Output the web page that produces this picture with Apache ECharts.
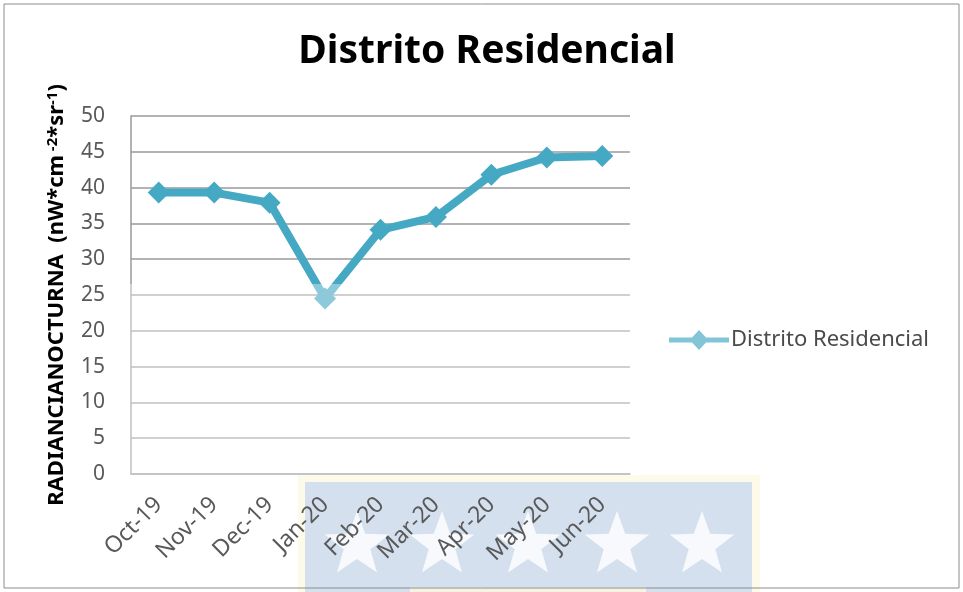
<!DOCTYPE html>
<html>
<head>
<meta charset="utf-8">
<script src="https://cdn.jsdelivr.net/npm/echarts@6/dist/echarts.min.js"></script>
<style>
  html, body { margin: 0; padding: 0; background: #fff; }
  #chart { width: 963px; height: 592px; }
</style>
</head>
<body>
<div id="chart"></div>
<script>
const months = ["Oct-19", "Nov-19", "Dec-19", "Jan-20", "Feb-20", "Mar-20", "Apr-20", "May-20", "Jun-20"];
const radiancia = [39.3, 39.3, 37.9, 24.5, 34.1, 35.9, 41.8, 44.2, 44.4];
const seriesName = "Distrito Residencial";

const chart = echarts.init(document.getElementById("chart"));
const font = "'Noto Sans', sans-serif";
const lineColor = "#46A9C4";

// faint stamp in the background of the scanned page
function starPoints(cx, cy, r, r0) {
  const pts = [];
  for (let i = 0; i < 10; i++) {
    const a = -Math.PI / 2 + (i * Math.PI) / 5;
    const rr = i % 2 === 0 ? r : r0;
    pts.push([cx + rr * Math.cos(a), cy + rr * Math.sin(a)]);
  }
  return pts;
}
const stamp = [
  {
    type: "rect",
    z: -10,
    shape: { x: 298, y: 475, width: 462, height: 120 },
    style: { fill: "#FDFAEA" },
    silent: true,
  },
  {
    type: "rect",
    z: -9,
    shape: { x: 305, y: 482, width: 447, height: 110 },
    style: { fill: "#D5E0EE" },
    silent: true,
  },
  {
    type: "rect",
    z: -8,
    shape: { x: 410, y: 587, width: 236, height: 5 },
    style: { fill: "#F6F3E2" },
    silent: true,
  },
];
[357, 442, 528, 617, 702].forEach((cx) => {
  stamp.push({
    type: "polygon",
    z: -8,
    shape: { points: starPoints(cx, 545, 34, 14) },
    style: { fill: "#F7F9FC" },
    silent: true,
  });
});
// the lower part of the scan is washed out
stamp.push({
  type: "rect",
  z: 100,
  shape: { x: 127, y: 284, width: 510, height: 192 },
  style: { fill: "rgba(255,255,255,0.38)" },
  silent: true,
});

chart.setOption({
  backgroundColor: "#fff",
  animation: false,
  title: {
    text: "Distrito Residencial",
    left: 482,
    top: 27,
    textAlign: "center",
    textStyle: { fontFamily: font, fontSize: 39, fontWeight: "bold", color: "#000" },
  },
  legend: {
    left: 669,
    top: 329,
    padding: 0,
    itemWidth: 60,
    itemHeight: 20,
    itemGap: 4,
    icon: "path://M0,7.5 L23,7.5 L30,0 L37,7.5 L60,7.5 L60,12.5 L37,12.5 L30,20 L23,12.5 L0,12.5 Z",
    data: [seriesName],
    textStyle: { fontFamily: font, fontSize: 22, color: "#4a4a4a", padding: [0, 0, 0, -3] },
    itemStyle: { color: "#82C5D7" },
  },
  grid: { left: 131, right: 333, top: 116, bottom: 118 },
  xAxis: {
    type: "category",
    data: months,
    boundaryGap: true,
    axisLine: { lineStyle: { color: "#9a9a9a", width: 1.5 } },
    axisTick: { show: false },
    axisLabel: {
      rotate: 45,
      margin: 27,
      fontFamily: font,
      fontSize: 23,
      color: "#595959",
    },
  },
  yAxis: {
    type: "value",
    min: 0,
    max: 50,
    interval: 5,
    name: "{b|RADIANCIANOCTURNA  (nW*cm}{s| -2}{b|*sr}{s|-1}{b|)}",
    nameLocation: "middle",
    nameGap: 62,
    nameRotate: 90,
    nameTextStyle: {
      rich: {
        b: { fontFamily: font, fontSize: 22, fontWeight: "bold", color: "#000" },
        s: { fontFamily: font, fontSize: 15, fontWeight: "bold", color: "#000", verticalAlign: "top", padding: [0, 0, 9, 0] },
      },
    },
    axisLine: { show: true, lineStyle: { color: "#9a9a9a", width: 1.5 } },
    axisTick: { show: false },
    axisLabel: { margin: 26, fontFamily: font, fontSize: 21, color: "#595959" },
    splitLine: { lineStyle: { color: "#9a9a9a", width: 1.5 } },
  },
  series: [
    {
      name: seriesName,
      type: "line",
      data: radiancia,
      symbol: "diamond",
      symbolSize: 22,
      lineStyle: { color: lineColor, width: 8 },
      itemStyle: { color: lineColor },
    },
  ],
  graphic: stamp.concat([
    {
      type: "rect",
      shape: { x: 4, y: 4, width: 955, height: 584 },
      style: { fill: "none", stroke: "#8c8c8c", lineWidth: 1 },
      silent: true,
    },
  ]),
});
</script>
</body>
</html>
